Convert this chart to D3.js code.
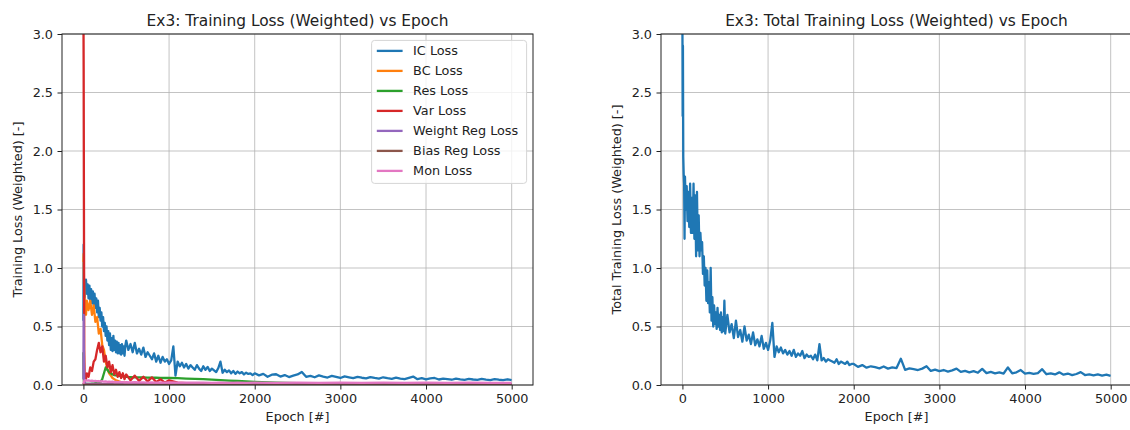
<!DOCTYPE html>
<html>
<head>
<meta charset="utf-8">
<script src="https://cdn.jsdelivr.net/npm/d3@7"></script>
<style>
  body { margin: 0; background: #fff; }
  svg { display: block; }
  text { font-family: 'DejaVu Sans', sans-serif; fill: #222; }
</style>
</head>
<body>
<svg id="chart"></svg>
<script>
// Sample epochs for IC / total loss (dense early, coarser later)
var EPOCHS = [
  0, 3, 6, 10, 15, 20, 25,
  30, 40, 50, 60, 70, 80, 90, 100, 110, 120,
  130, 140, 150, 160, 170, 180, 190, 200, 210, 220,
  230, 240, 250, 260, 270, 280, 290, 300, 310, 320,
  330, 340, 350, 360, 370, 380, 390, 400, 410, 420,
  430, 440, 450, 460, 470, 480, 490,
  500, 525, 550, 575, 600, 625, 650, 675, 700, 725,
  750, 775, 800, 825, 850, 875, 900, 925, 950, 975,
  1000, 1025, 1050, 1075, 1100, 1125, 1150, 1175, 1200, 1225,
  1250, 1275, 1300, 1325, 1350, 1375, 1400, 1425, 1450, 1475,
  1500, 1525, 1550, 1575, 1600, 1625, 1650, 1675, 1700, 1725,
  1750, 1775, 1800, 1825, 1850, 1875, 1900, 1925, 1950, 1975,
  2000, 2050, 2100, 2150, 2200, 2250, 2300, 2350, 2400, 2450,
  2500, 2550, 2600, 2650, 2700, 2750, 2800, 2850, 2900, 2950,
  3000, 3050, 3100, 3150, 3200, 3250, 3300, 3350, 3400, 3450,
  3500, 3550, 3600, 3650, 3700, 3750, 3800, 3850, 3900, 3950,
  4000, 4050, 4100, 4150, 4200, 4250, 4300, 4350, 4400, 4450,
  4500, 4550, 4600, 4650, 4700, 4750, 4800, 4850, 4900, 4950,
  4999
]

var IC_LOSS = [
  0.55, 1.2, 0.6, 0.9, 0.75, 0.88, 0.8,
  0.9, 0.78, 0.86, 0.74, 0.85, 0.72, 0.82, 0.7, 0.8, 0.68,
  0.78, 0.66, 0.74, 0.62, 0.72, 0.58, 0.66, 0.55, 0.62, 0.5,
  0.58, 0.46, 0.53, 0.42, 0.5, 0.38, 0.46, 0.34, 0.44, 0.3,
  0.4, 0.29, 0.42, 0.3, 0.38, 0.28, 0.37, 0.27, 0.36, 0.27,
  0.34, 0.26, 0.35, 0.27, 0.33, 0.25, 0.34,
  0.38, 0.3, 0.35, 0.28, 0.36, 0.27, 0.31, 0.26, 0.32, 0.24,
  0.28, 0.25, 0.22, 0.27, 0.2, 0.25, 0.19, 0.24, 0.2, 0.22,
  0.18, 0.21, 0.33, 0.08, 0.2, 0.16, 0.19, 0.15, 0.18, 0.14,
  0.17, 0.15, 0.13, 0.17, 0.14, 0.12, 0.16, 0.13, 0.155, 0.12,
  0.14, 0.125, 0.11, 0.145, 0.2, 0.105, 0.13, 0.11, 0.125, 0.1,
  0.12, 0.095, 0.115, 0.1, 0.11, 0.09, 0.105, 0.095, 0.1, 0.085,
  0.1, 0.082, 0.095, 0.07, 0.088, 0.092, 0.072, 0.085, 0.068, 0.08,
  0.09, 0.112, 0.07, 0.078, 0.066, 0.082, 0.072, 0.064, 0.078, 0.07,
  0.06, 0.074, 0.066, 0.058, 0.07, 0.062, 0.056, 0.068, 0.06, 0.054,
  0.066, 0.058, 0.052, 0.063, 0.055, 0.05, 0.061, 0.072, 0.05, 0.058,
  0.048, 0.056, 0.06, 0.047, 0.054, 0.05, 0.045, 0.055, 0.049, 0.044,
  0.053, 0.047, 0.043, 0.052, 0.046, 0.042, 0.05, 0.045, 0.041, 0.049,
  0.042
]

var TOTAL_LOSS = [
  3.2, 2.3, 2.9, 1.95, 1.8, 1.72, 1.25,
  1.78, 1.5, 1.7, 1.4, 1.65, 1.35, 1.72, 1.3, 1.6, 1.3,
  1.72, 1.25, 1.62, 1.1, 1.65, 1.15, 1.45, 1.1, 1.3, 1.15,
  1.22, 0.95, 1.1, 0.85, 1.0, 0.72, 0.98, 0.7, 0.88, 0.62,
  1.0, 0.55, 0.75, 0.5, 0.68, 0.52, 0.62, 0.48, 0.66, 0.5,
  0.6, 0.47, 0.62, 0.45, 0.58, 0.46, 0.72,
  0.44, 0.6, 0.45, 0.52, 0.4, 0.55, 0.41, 0.47, 0.37, 0.5,
  0.38, 0.43, 0.35, 0.45, 0.34, 0.39, 0.33, 0.42, 0.31, 0.36,
  0.3, 0.38, 0.53, 0.24, 0.33, 0.28, 0.32, 0.27, 0.3, 0.26,
  0.29, 0.25, 0.3, 0.24, 0.27, 0.25, 0.29, 0.23, 0.26, 0.24,
  0.25, 0.22, 0.26, 0.21, 0.35, 0.21, 0.23, 0.2, 0.22, 0.21,
  0.2, 0.19, 0.22, 0.18, 0.2, 0.19, 0.18, 0.2, 0.17, 0.18,
  0.18, 0.155, 0.17, 0.148, 0.16, 0.152, 0.142, 0.158, 0.14, 0.15,
  0.145, 0.225, 0.13, 0.142, 0.135, 0.128, 0.14, 0.16, 0.12, 0.132,
  0.118, 0.128, 0.115, 0.125, 0.14, 0.112, 0.12, 0.108, 0.118, 0.105,
  0.138, 0.102, 0.112, 0.1, 0.108, 0.098, 0.15, 0.1, 0.108, 0.128,
  0.098, 0.104, 0.095, 0.102, 0.135, 0.092, 0.1, 0.09, 0.108, 0.088,
  0.098, 0.085, 0.094, 0.11, 0.085, 0.09, 0.082, 0.09, 0.08, 0.088,
  0.078
]

// Sample epochs for the smaller loss terms
var AUX_EPOCHS = [
  0, 3, 6, 10, 15, 20, 25, 30,
  40, 60, 80, 100, 120, 140, 160, 180, 200, 220, 240, 260,
  280, 300, 320, 340, 360, 380, 400, 420, 440, 460, 480, 500,
  550, 600, 650, 700, 750, 800, 850, 900, 950, 1000,
  1100, 1200, 1300, 1400, 1500, 1600, 1700, 1800, 1900, 2000,
  2250, 2500, 2750, 3000, 3250, 3500, 3750, 4000, 4250, 4500, 4750, 4999
]

var BC_LOSS = [
  1.05, 1.12, 0.9, 0.78, 0.72, 0.62, 0.7, 0.6,
  0.72, 0.64, 0.72, 0.6, 0.68, 0.54, 0.58, 0.44, 0.48, 0.34, 0.3, 0.2,
  0.14, 0.1, 0.08, 0.06, 0.05, 0.04, 0.035, 0.03, 0.025, 0.022, 0.02, 0.018,
  0.016, 0.015, 0.014, 0.013, 0.012, 0.012, 0.011, 0.011, 0.01, 0.01,
  0.01, 0.009, 0.009, 0.009, 0.008, 0.008, 0.008, 0.008, 0.007, 0.007,
  0.007, 0.006, 0.006, 0.006, 0.006, 0.005, 0.005, 0.005, 0.005, 0.005, 0.005, 0.005
]

var RES_LOSS = [
  0.28, 0.06, 0.03, 0.02, 0.015, 0.012, 0.01, 0.01,
  0.01, 0.01, 0.01, 0.012, 0.012, 0.015, 0.015, 0.02, 0.025, 0.05, 0.1, 0.15,
  0.13, 0.11, 0.1, 0.09, 0.085, 0.082, 0.08, 0.078, 0.075, 0.073, 0.072, 0.07,
  0.068, 0.066, 0.065, 0.064, 0.063, 0.062, 0.062, 0.061, 0.06, 0.06,
  0.058, 0.055, 0.052, 0.05, 0.046, 0.042, 0.038, 0.034, 0.03, 0.026,
  0.02, 0.016, 0.013, 0.012, 0.011, 0.01, 0.01, 0.01, 0.009, 0.009, 0.009, 0.009
]

var VAR_LOSS = [
  3.3, 2.7, 1.6, 0.3, 0.05, 0.04, 0.06, 0.05,
  0.1, 0.07, 0.15, 0.12, 0.2, 0.22, 0.3, 0.36, 0.28, 0.33, 0.2, 0.25,
  0.15, 0.2, 0.11, 0.17, 0.09, 0.13, 0.07, 0.11, 0.06, 0.1, 0.05, 0.09,
  0.04, 0.08, 0.035, 0.07, 0.03, 0.065, 0.025, 0.05, 0.02, 0.04,
  0.02, 0.015, 0.015, 0.012, 0.012, 0.01, 0.01, 0.01, 0.01, 0.01,
  0.01, 0.01, 0.009, 0.009, 0.009, 0.008, 0.008, 0.008, 0.008, 0.008, 0.008, 0.008
]

var WEIGHT_REG_LOSS = [
  0.05, 0.6, 0.2, 0.03, 0.02, 0.015, 0.012, 0.01,
  0.01, 0.01, 0.01, 0.01, 0.01, 0.01, 0.01, 0.01, 0.01, 0.01, 0.01, 0.01,
  0.01, 0.01, 0.01, 0.01, 0.01, 0.01, 0.01, 0.01, 0.01, 0.01, 0.01, 0.01,
  0.009, 0.009, 0.009, 0.009, 0.009, 0.009, 0.009, 0.009, 0.009, 0.009,
  0.008, 0.008, 0.008, 0.008, 0.008, 0.008, 0.008, 0.008, 0.008, 0.008,
  0.007, 0.007, 0.007, 0.007, 0.007, 0.007, 0.007, 0.007, 0.007, 0.007, 0.007, 0.007
]

var BIAS_REG_LOSS = [
  0.02, 0.01, 0.005, 0.004, 0.003, 0.003, 0.003, 0.003,
  0.003, 0.003, 0.003, 0.003, 0.003, 0.003, 0.003, 0.003, 0.003, 0.003, 0.003, 0.003,
  0.003, 0.003, 0.003, 0.003, 0.003, 0.003, 0.003, 0.003, 0.003, 0.003, 0.003, 0.003,
  0.003, 0.003, 0.003, 0.003, 0.003, 0.003, 0.003, 0.003, 0.003, 0.003,
  0.003, 0.003, 0.003, 0.003, 0.003, 0.003, 0.003, 0.003, 0.003, 0.003,
  0.003, 0.003, 0.003, 0.003, 0.003, 0.003, 0.003, 0.003, 0.003, 0.003, 0.003, 0.003
]

var MON_LOSS = [
  0.01, 0.02, 0.03, 0.035, 0.04, 0.038, 0.042, 0.04,
  0.038, 0.04, 0.036, 0.038, 0.034, 0.036, 0.032, 0.034, 0.03, 0.032, 0.028, 0.03,
  0.027, 0.029, 0.026, 0.028, 0.025, 0.027, 0.024, 0.026, 0.024, 0.025, 0.023, 0.025,
  0.022, 0.024, 0.022, 0.023, 0.021, 0.023, 0.021, 0.022, 0.02, 0.022,
  0.02, 0.021, 0.02, 0.021, 0.019, 0.021, 0.019, 0.02, 0.019, 0.02,
  0.019, 0.02, 0.019, 0.02, 0.019, 0.02, 0.019, 0.02, 0.019, 0.02, 0.019, 0.019
]

var SERIES_NAMES = ['IC Loss', 'BC Loss', 'Res Loss', 'Var Loss', 'Weight Reg Loss', 'Bias Reg Loss', 'Mon Loss']
var X_TICKS = [0, 1000, 2000, 3000, 4000, 5000]
var Y_TICKS = [0, 0.5, 1.0, 1.5, 2.0, 2.5, 3.0]

;(function () {
  var WIDTH = 1130
  var HEIGHT = 430
  var COLORS = ['#1f77b4', '#ff7f0e', '#2ca02c', '#d62728', '#9467bd', '#8c564b', '#e377c2']
  var TICK_FONT = 12.8
  var TITLE_FONT = 15.4
  var TOP = 34
  var BOTTOM = 385
  var PLOT_W = 471
  var LINE_W = 2.3

  var svg = d3.select('#chart')
    .attr('width', WIDTH)
    .attr('height', HEIGHT)

  svg.append('rect')
    .attr('width', WIDTH)
    .attr('height', HEIGHT)
    .attr('fill', '#fff')

  function drawPanel (opts) {
    var left = opts.left
    var x = d3.scaleLinear().domain([-249.95, 5248.95]).range([left, left + PLOT_W])
    var y = d3.scaleLinear().domain([0, 3]).range([BOTTOM, TOP])
    var g = svg.append('g')

    // grid
    g.append('g').selectAll('line')
      .data(X_TICKS).enter().append('line')
      .attr('x1', function (d) { return x(d) }).attr('x2', function (d) { return x(d) })
      .attr('y1', TOP).attr('y2', BOTTOM)
      .attr('stroke', '#b0b0b0').attr('stroke-width', 1).attr('opacity', 0.75)
    g.append('g').selectAll('line')
      .data(Y_TICKS).enter().append('line')
      .attr('y1', function (d) { return y(d) }).attr('y2', function (d) { return y(d) })
      .attr('x1', left).attr('x2', left + PLOT_W)
      .attr('stroke', '#b0b0b0').attr('stroke-width', 1).attr('opacity', 0.75)

    // clip
    svg.append('clipPath').attr('id', opts.id + '-clip')
      .append('rect')
      .attr('x', left).attr('y', TOP)
      .attr('width', PLOT_W).attr('height', BOTTOM - TOP)

    var lineGen = d3.line()
      .x(function (d) { return x(d[0]) })
      .y(function (d) { return y(d[1]) })

    g.append('g')
      .attr('clip-path', 'url(#' + opts.id + '-clip)')
      .selectAll('path')
      .data(opts.series).enter().append('path')
      .attr('d', function (s) { return lineGen(d3.zip(s.epochs, s.values)) })
      .attr('fill', 'none')
      .attr('stroke', function (s) { return s.color })
      .attr('stroke-width', LINE_W)
      .attr('stroke-linejoin', 'round')

    // axes
    var xAxis = d3.axisBottom(x).tickValues(X_TICKS).tickSize(4.5).tickSizeOuter(0).tickPadding(4.5)
      .tickFormat(d3.format('d'))
    var yAxis = d3.axisLeft(y).tickValues(Y_TICKS).tickSize(4.5).tickSizeOuter(0).tickPadding(4.5)
      .tickFormat(d3.format('.1f'))

    var gx = g.append('g').attr('transform', 'translate(0,' + BOTTOM + ')').call(xAxis)
    var gy = g.append('g').attr('transform', 'translate(' + left + ',0)').call(yAxis)
    ;[gx, gy].forEach(function (a) {
      a.select('.domain').remove()
      a.attr('font-family', null).attr('font-size', null)
      a.selectAll('line').attr('stroke', '#222').attr('stroke-width', 1)
      a.selectAll('text').attr('font-size', TICK_FONT).attr('fill', '#222')
    })

    // spines
    g.append('rect')
      .attr('x', left).attr('y', TOP)
      .attr('width', PLOT_W).attr('height', BOTTOM - TOP)
      .attr('fill', 'none').attr('stroke', '#222').attr('stroke-width', 1)

    // labels
    g.append('text')
      .attr('x', left + PLOT_W / 2).attr('y', 26)
      .attr('text-anchor', 'middle')
      .attr('font-size', TITLE_FONT)
      .text(opts.title)
    g.append('text')
      .attr('x', x(2500)).attr('y', 421)
      .attr('text-anchor', 'middle')
      .attr('font-size', TICK_FONT)
      .text('Epoch [#]')
    g.append('text')
      .attr('transform', 'translate(' + (left - 40) + ',' + (TOP + BOTTOM) / 2 + ') rotate(-90)')
      .attr('text-anchor', 'middle')
      .attr('font-size', TICK_FONT)
      .text(opts.yLabel)

    if (opts.legend) drawLegend(g, left + PLOT_W, opts.series)
  }

  function drawLegend (g, right, series) {
    var boxW = 155
    var boxX = right - 6.4 - boxW
    var boxY = TOP + 6.4
    var rowH = 20
    var lg = g.append('g')
    lg.append('rect')
      .attr('x', boxX).attr('y', boxY)
      .attr('width', boxW).attr('height', 143)
      .attr('rx', 3)
      .attr('fill', '#fff').attr('fill-opacity', 0.8)
      .attr('stroke', '#d5d5d5').attr('stroke-width', 1)
    var rows = lg.selectAll('g.row')
      .data(series).enter().append('g')
      .attr('transform', function (d, i) { return 'translate(' + boxX + ',' + (boxY + 10.5 + i * rowH) + ')' })
    rows.append('line')
      .attr('x1', 5.2).attr('x2', 31)
      .attr('stroke', function (d) { return d.color })
      .attr('stroke-width', LINE_W)
    rows.append('text')
      .attr('x', 41.5).attr('dy', '0.35em')
      .attr('font-size', TICK_FONT)
      .text(function (d) { return d.name })
  }

  var auxValues = [BC_LOSS, RES_LOSS, VAR_LOSS, WEIGHT_REG_LOSS, BIAS_REG_LOSS, MON_LOSS]
  var leftSeries = [{ name: SERIES_NAMES[0], epochs: EPOCHS, values: IC_LOSS, color: COLORS[0] }]
  auxValues.forEach(function (vals, i) {
    leftSeries.push({ name: SERIES_NAMES[i + 1], epochs: AUX_EPOCHS, values: vals, color: COLORS[i + 1] })
  })

  drawPanel({
    id: 'p1',
    left: 62,
    title: 'Ex3: Training Loss (Weighted) vs Epoch',
    yLabel: 'Training Loss (Weighted) [-]',
    series: leftSeries,
    legend: true
  })

  drawPanel({
    id: 'p2',
    left: 661,
    title: 'Ex3: Total Training Loss (Weighted) vs Epoch',
    yLabel: 'Total Training Loss (Weighted) [-]',
    series: [{ name: 'Total Loss', epochs: EPOCHS, values: TOTAL_LOSS, color: COLORS[0] }],
    legend: false
  })
})()
</script>
</body>
</html>
